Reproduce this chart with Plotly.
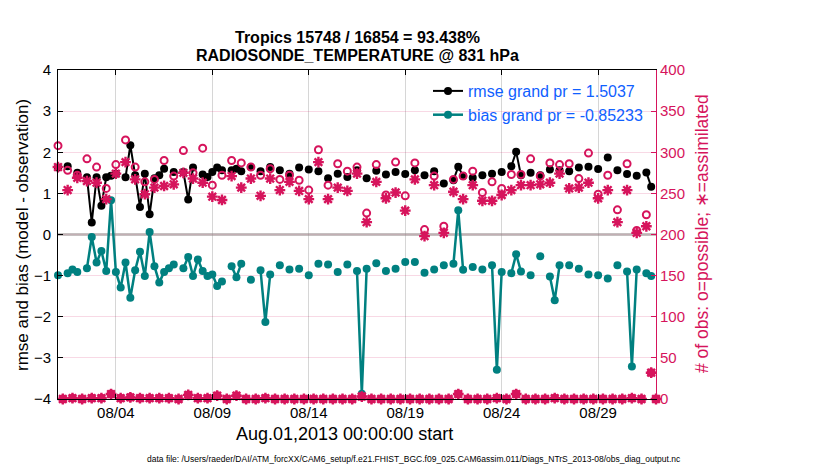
import pandas as pd
import plotly.graph_objects as go

# 6-hourly bins, Aug 01 00Z .. Sep 01 00Z (125 bins)
times = pd.date_range('2013-08-01 00:00', periods=125, freq='6h')

rmse = [
    1.63, None, 1.66, None, 1.50, None, 1.39, 0.29,
    1.39, 0.70, 1.39, 1.43, 1.48, None, 1.39, 2.17,
    1.44, 0.67, 1.48, 0.49, 1.37, 1.44, 1.60, None,
    1.52, None, 1.52, 0.85, 1.63, None, 1.46, 1.40,
    1.52, 1.63, 1.56, None, 1.56, 1.60, 1.54, None,
    1.64, None, 1.54, None, 1.64, None, 1.56, None,
    1.48, None, 1.63, None, 1.58, None, 1.54, None,
    1.37, None, 1.48, None, 1.40, None, 1.56, None,
    1.37, None, 1.55, None, 1.46, None, 1.52, None,
    1.47, None, 1.56, None, 1.44, None, 1.54, None,
    1.24, None, 1.32, 1.65, 1.42, None, 1.38, None,
    1.44, None, 1.48, None, 1.52, None, 1.66, 2.01,
    1.44, None, 1.50, None, 1.44, None, 1.58, None,
    1.56, None, 1.54, None, 1.63, None, 1.65, None,
    1.59, None, 1.87, None, 1.56, None, 1.47, None,
    1.43, None, 1.51, 1.16, None,
]

bias = [
    -0.99, None, -0.94, -0.85, -0.91, None, -0.82, -0.06,
    -0.68, -0.40, -0.89, 0.83, -0.91, -1.29, -0.68, -1.54,
    -0.87, -0.42, -1.01, 0.06, -0.77, -1.17, -0.91, -0.82,
    -0.73, None, -0.82, -0.55, -1.01, -0.61, -0.89, -1.01,
    -0.97, -1.25, -1.14, None, -0.77, -1.04, -0.71, None,
    -1.10, None, -0.87, -2.13, -0.97, None, -0.75, None,
    -0.85, None, -0.83, None, -0.99, None, -0.71, None,
    -0.73, None, -0.91, None, -0.73, None, -0.89, -3.87,
    -0.83, None, -0.70, None, -0.89, None, -0.83, None,
    -0.67, None, -0.67, None, -0.93, None, -0.85, None,
    -0.75, None, -0.71, 0.59, -0.86, None, -0.79, None,
    -0.85, None, -0.75, -3.29, -0.91, None, -0.94, -0.48,
    -0.90, None, -0.99, None, -0.53, None, -1.02, -1.60,
    -0.75, None, -0.75, None, -0.83, None, -0.97, None,
    -0.99, None, -1.07, None, -0.75, None, -0.90, -3.21,
    -0.85, None, -0.94, -1.01, None,
]

n_possible = [
    308, 0, 278, 1, 272, 0, 292, 1,
    282, 1, 256, 6, 285, 1, 315, 2,
    282, 1, 264, 1, 267, 1, 290, 1,
    271, 0, 302, 5, 275, 1, 305, 1,
    260, 4, 272, 0, 290, 4, 287, 0,
    282, 0, 272, 1, 280, 0, 267, 0,
    272, 0, 266, 0, 254, 0, 303, 0,
    260, 0, 286, 0, 277, 0, 282, 3,
    226, 0, 285, 0, 248, 0, 288, 0,
    247, 0, 287, 0, 206, 0, 271, 0,
    210, 0, 267, 6, 271, 0, 277, 0,
    251, 0, 264, 1, 256, 0, 273, 6,
    273, 0, 292, 0, 271, 0, 287, 1,
    285, 0, 286, 0, 268, 0, 299, 0,
    249, 0, 272, 0, 230, 0, 286, 1,
    205, 0, 224, 32, 0,
]

n_assim = [
    282, 0, 254, 1, 269, 0, 265, 1,
    263, 1, 243, 6, 274, 1, 288, 2,
    267, 1, 249, 1, 257, 1, 259, 1,
    261, 0, 275, 5, 268, 1, 263, 1,
    246, 4, 242, 0, 271, 4, 257, 0,
    268, 0, 247, 1, 268, 0, 254, 0,
    264, 0, 253, 0, 243, 0, 288, 0,
    243, 0, 257, 0, 253, 0, 274, 3,
    215, 0, 264, 0, 244, 0, 251, 0,
    229, 0, 267, 0, 198, 0, 260, 0,
    202, 0, 252, 6, 243, 0, 260, 0,
    241, 0, 241, 1, 248, 0, 254, 6,
    260, 0, 260, 0, 261, 0, 263, 1,
    274, 0, 256, 0, 257, 0, 263, 0,
    244, 0, 254, 0, 215, 0, 254, 1,
    202, 0, 210, 32, 0,
]

date_ticks = ['2013-08-04', '2013-08-09', '2013-08-14',
              '2013-08-19', '2013-08-24', '2013-08-29']
date_labels = ['08/04', '08/09', '08/14', '08/19', '08/24', '08/29']

rmse_label = 'rmse grand pr = 1.5037'
bias_label = 'bias grand pr = -0.85233'

FONT = 'Liberation Sans, Arial, Helvetica, sans-serif'
PINK = '#D6145C'
TEAL = '#008080'
BLUE = '#1060FF'

fig = go.Figure()

fig.add_trace(go.Scatter(
    x=times, y=rmse, name=rmse_label, mode='lines+markers',
    line=dict(color='black', width=2),
    marker=dict(color='black', size=8),
    connectgaps=False, cliponaxis=False,
))
fig.add_trace(go.Scatter(
    x=times, y=bias, name=bias_label, mode='lines+markers',
    line=dict(color=TEAL, width=2.5),
    marker=dict(color=TEAL, size=8),
    connectgaps=False, cliponaxis=False,
))
fig.add_trace(go.Scatter(
    x=times, y=n_possible, yaxis='y2', mode='markers', showlegend=False,
    marker=dict(symbol='circle-open', color=PINK, size=7,
                line=dict(width=2, color=PINK)),
    cliponaxis=False,
))
fig.add_trace(go.Scatter(
    x=times, y=n_assim, yaxis='y2', mode='markers', showlegend=False,
    marker=dict(symbol='asterisk-open', color=PINK, size=9,
                line=dict(width=2.4, color=PINK)),
    cliponaxis=False,
))

# the page adds an 8px body margin, so work in window pixels minus 8
OFF = 8
W, H = 830 - OFF, 470 - OFF
# plot area in window pixels: x 58..656, y 70..399
L, R, T, B = 58 - OFF, 656 - OFF, 70 - OFF, 399 - OFF


def px(x):
    return (x - OFF - L) / (R - L)


def py(y):
    return (B - (y - OFF)) / (B - T)


annotations = [
    dict(text='<b>Tropics 15748 / 16854 = 93.438%</b>', x=px(357), y=py(38),
         font=dict(family=FONT, size=16, color='black')),
    dict(text='<b>RADIOSONDE_TEMPERATURE @ 831 hPa</b>', x=px(357), y=py(56),
         font=dict(family=FONT, size=16, color='black')),
    dict(text='Aug.01,2013 00:00:00 start', x=px(344), y=py(434),
         font=dict(family=FONT, size=18, color='black')),
    dict(text='rmse and bias (model - observation)', x=px(22), y=py(235),
         textangle=-90, font=dict(family=FONT, size=17, color='black')),
    dict(text='# of obs: o=possible; \u2217=assimilated', x=px(702), y=py(234),
         textangle=-90, font=dict(family=FONT, size=17.5, color=PINK)),
    dict(text='data file: /Users/raeder/DAI/ATM_forcXX/CAM6_setup/'
              'f.e21.FHIST_BGC.f09_025.CAM6assim.011/Diags_NTrS_2013-08/'
              'obs_diag_output.nc',
         x=px(414), y=py(459), font=dict(family=FONT, size=8.5, color='black')),
]
for a in annotations:
    a.update(xref='paper', yref='paper', showarrow=False,
             xanchor='center', yanchor='middle')

fig.update_layout(
    width=W, height=H,
    margin=dict(l=L, r=W - R, t=T, b=H - B, pad=0),
    paper_bgcolor='white', plot_bgcolor='white',
    font=dict(family=FONT, size=15, color='black'),
    annotations=annotations,
    showlegend=True,
    legend=dict(x=px(428), y=py(74), xanchor='left', yanchor='top',
                bgcolor='rgba(0,0,0,0)', borderwidth=0,
                font=dict(family=FONT, size=16, color=BLUE),
                tracegroupgap=0, itemwidth=30),
    xaxis=dict(
        type='date', range=['2013-08-01 00:00', '2013-09-01 00:00'],
        tickvals=date_ticks, ticktext=date_labels,
        ticks='inside', ticklen=5, tickcolor='black',
        showline=True, linecolor='black', linewidth=1, mirror='ticks',
        showgrid=True, gridcolor='rgba(0,0,0,0.16)', gridwidth=1,
        zeroline=False, tickfont=dict(size=15),
    ),
    yaxis=dict(
        range=[-4, 4], dtick=1, tick0=0,
        ticks='inside', ticklen=5, tickcolor='black',
        showline=True, linecolor='black', linewidth=1,
        showgrid=False,
        zeroline=True, zerolinecolor='rgba(150,140,140,0.55)', zerolinewidth=2.5,
        tickfont=dict(size=15), ticklabelstandoff=3,
    ),
    yaxis2=dict(
        overlaying='y', side='right', range=[0, 400], dtick=50, tick0=0,
        ticks='inside', ticklen=5, tickcolor=PINK,
        showline=True, linecolor=PINK, linewidth=1,
        showgrid=True, gridcolor='rgba(214,20,92,0.16)', gridwidth=1,
        zeroline=False, tickfont=dict(size=15, color=PINK),
    ),
)

fig.write_html('out.html')
